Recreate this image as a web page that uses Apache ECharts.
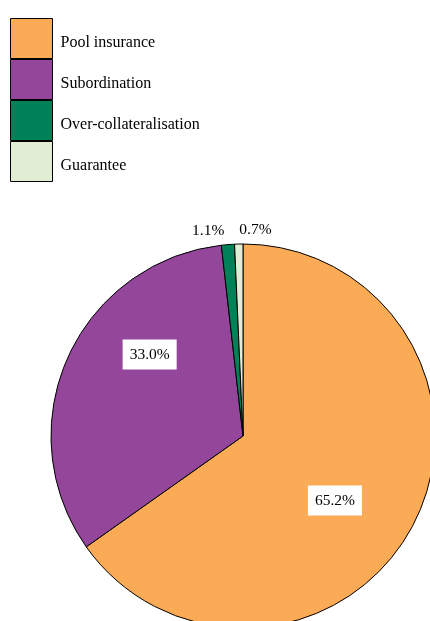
<!DOCTYPE html>
<html>
<head>
<meta charset="utf-8">
<script src="https://cdn.jsdelivr.net/npm/echarts@6/dist/echarts.min.js"></script>
<style>
  html, body { margin: 0; padding: 0; background: #fff; }
  #chart { width: 430px; height: 621px; }
</style>
</head>
<body>
<div id="chart"></div>
<script>
// Credit enhancement types, share of total (%)
const categories = ['Pool insurance', 'Subordination', 'Over-collateralisation', 'Guarantee'];
const shares = [65.2, 33.0, 1.1, 0.7];
const colors = ['#fbab56', '#93469a', '#008157', '#e1eed3'];

const FONT = '"Liberation Serif", "Times New Roman", serif';

const insideLabel = {
  position: 'inside',
  backgroundColor: '#fff',
  padding: [7, 7],
  lineHeight: 16
};
const outsideLabel = {
  position: 'outside'
};

const data = categories.map((name, i) => ({
  name,
  value: shares[i],
  itemStyle: { color: colors[i] },
  label: shares[i] > 5 ? insideLabel : outsideLabel
}));

// small nudges so labels sit clear of each other and of the slice edges
const labelShift = [
  { dx: 4, dy: 19 },
  { dx: -3, dy: -41 },
  { dx: 2, dy: -6 },
  { dx: 38, dy: -6 }
];

const chart = echarts.init(document.getElementById('chart'), null, { renderer: 'canvas' });
chart.setOption({
  animation: false,
  textStyle: { fontFamily: FONT },
  legend: {
    orient: 'vertical',
    left: 10,
    top: 18,
    padding: 0,
    itemWidth: 42,
    itemHeight: 40,
    itemGap: 0,
    icon: 'rect',
    itemStyle: { borderColor: '#000', borderWidth: 1 },
    formatter: name => '{n|' + name + '}',
    textStyle: {
      fontFamily: FONT, fontSize: 16, color: '#000', padding: [0, 0, 0, 3],
      rich: { n: { fontFamily: FONT, fontSize: 16, color: '#000', lineHeight: 18, padding: [8, 0, 0, 0] } }
    },
    data: categories
  },
  series: [{
    type: 'pie',
    center: [243, 436],
    radius: 192,
    startAngle: 90,
    clockwise: true,
    avoidLabelOverlap: false,
    itemStyle: { borderColor: '#000', borderWidth: 1 },
    label: {
      show: true,
      formatter: p => p.value.toFixed(1) + '%',
      fontFamily: FONT,
      fontSize: 15.5,
      color: '#000'
    },
    labelLine: { show: false, length: 8, length2: 0 },
    labelLayout: p => labelShift[p.dataIndex],
    emphasis: { disabled: true },
    data
  }]
});
</script>
</body>
</html>
